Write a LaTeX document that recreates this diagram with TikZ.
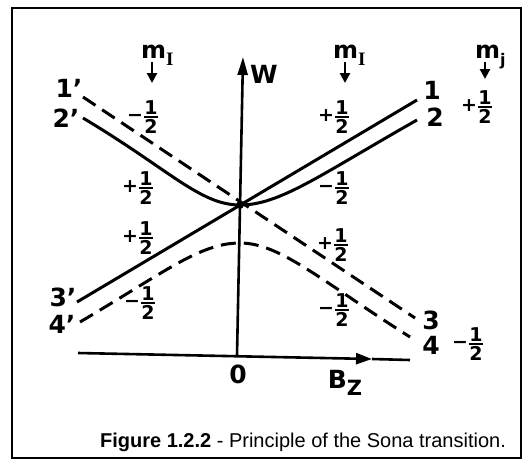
\documentclass[tikz,border=0pt]{standalone}
\usepackage{amsmath}
\usepackage{fontspec}
\setmainfont{DejaVu Sans}
\newfontfamily\capfont{Liberation Sans}
\newfontfamily\subfont{Liberation Serif}
\usetikzlibrary{arrows.meta}

\newcommand{\hfr}[1]{#1$\genfrac{}{}{1.8pt}{}{\mbox{1}}{\mbox{2}}$}

\begin{document}
\begin{tikzpicture}[x=1pt, y=-1pt,
    level/.style={line width=3pt},
    dashlevel/.style={line width=3pt, dash pattern=on 15pt off 8pt},
    axis/.style={line width=2.6pt},
    lbl/.style={font=\fontsize{25}{27}\selectfont\bfseries, inner sep=0pt},
    frac/.style={font=\fontsize{19}{20}\selectfont\bfseries, inner sep=0pt},
    mlbl/.style={font=\fontsize{24}{26}\selectfont\bfseries, inner sep=0pt, anchor=base west},
    marrow/.style={line width=2.6pt, -{Triangle[length=10pt, width=10pt]}}
]
\useasboundingbox (0,0) rectangle (525,472);
\draw[line width=1.4pt] (12,8) rectangle (521,458);

% axes
\coordinate (wbot) at (237,356);
\coordinate (wtop) at (243,57);
\coordinate (bzl) at (78,353);
\coordinate (bzm) at (372,359);
\coordinate (bzr) at (410,360);
\draw[axis, -{Triangle[length=18pt, width=10pt]}] (wbot) -- (wtop);
\draw[axis, -{Triangle[length=16pt, width=11pt]}] (bzl) -- (bzm);
\draw[axis] (bzm) -- (bzr);
\node[lbl] (w) at (264,74) {W};
\node[lbl] (zero) at (238,374) {0};
\node[lbl] (bz) at (345,383) {B\raisebox{-7pt}{\fontsize{21}{21}\selectfont Z}};

% end labels
\node[lbl] (n1p) at (69,88) {1’};
\node[lbl] (n2p) at (66,118) {2’};
\node[lbl] (n3p) at (63,297) {3’};
\node[lbl] (n4p) at (62,324) {4’};
\node[lbl] (n1) at (432,90) {1};
\node[lbl] (n2) at (435,117) {2};
\node[lbl] (n3) at (431,320) {3};
\node[lbl] (n4) at (431,345) {4};

% levels
\coordinate (cross) at (240,205);
\coordinate (e1p) at (83,97);
\coordinate (e2p) at (83,118);
\coordinate (e3p) at (77,302);
\coordinate (e4p) at (80,322);
\coordinate (e1) at (417,100);
\coordinate (e2) at (417,120);
\coordinate (e3) at (415,318);
\coordinate (e4) at (410,337);
\coordinate (top4) at (240,243);

\draw[level] (e3p) -- (e1);
\draw[dashlevel] (e1p) -- (e3);
\draw[level] (e2p) .. controls (170,170) and (200,205) .. (cross)
    .. controls (280,205) and (320,175) .. (e2);
\draw[dashlevel] (e4p) .. controls (165,272) and (200,243) .. (top4)
    .. controls (280,243) and (320,280) .. (e4);
\fill (cross) circle (3.8pt);

% quantum numbers
\node[mlbl] (mIa) at (141,58) {m\raisebox{-7pt}{\subfont\fontsize{19}{19}\selectfont I}};
\node[mlbl] (mIb) at (333,58) {m\raisebox{-7pt}{\subfont\fontsize{19}{19}\selectfont I}};
\node[mlbl] (mj) at (475,58) {m\raisebox{-7pt}{\fontsize{16}{16}\selectfont j}};
\coordinate (mIa-tip) at (152,83);
\coordinate (mIb-tip) at (345,83);
\coordinate (mj-tip) at (485,79);
\draw[marrow] (mIa-tip |- 0,62) -- (mIa-tip);
\draw[marrow] (mIb-tip |- 0,62) -- (mIb-tip);
\draw[marrow] (mj-tip |- 0,62) -- (mj-tip);

\node[frac] (fa) at (143,117) {\hfr{−}};
\node[frac] (fb) at (138,188) {\hfr{+}};
\node[frac] (fc) at (138,238) {\hfr{+}};
\node[frac] (fd) at (140,303) {\hfr{−}};
\node[frac] (fe) at (334,117) {\hfr{+}};
\node[frac] (ff) at (334,188) {\hfr{−}};
\node[frac] (fg) at (333,245) {\hfr{+}};
\node[frac] (fh) at (334,310) {\hfr{−}};
\node[frac] (fi) at (477,107) {\hfr{+}};
\node[frac] (fj) at (468,344) {\hfr{−}};

\node[font=\capfont\fontsize{20}{22}\selectfont, inner sep=0pt] (caption) at (303,442)
    {\textbf{Figure 1.2.2} - Principle of the Sona transition.};
\end{tikzpicture}
\end{document}
